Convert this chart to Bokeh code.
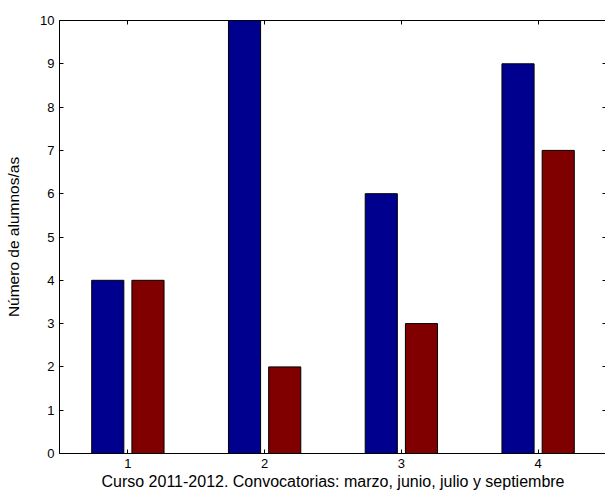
from bokeh.plotting import figure
from bokeh.models import LinearAxis, FixedTicker, Range1d
from bokeh.transform import dodge
from bokeh.models import ColumnDataSource
from bokeh.embed import file_html
from bokeh.resources import INLINE

groups = [1, 2, 3, 4]
serie_a = [4, 10, 6, 9]
serie_b = [4, 2, 3, 7]
y_ticks = [0, 1, 2, 3, 4, 5, 6, 7, 8, 9, 10]

src = ColumnDataSource(dict(x=groups, a=serie_a, b=serie_b))

p = figure(width=606, height=493, output_backend="svg", toolbar_location=None,
           x_range=Range1d(0.5, 4.5), y_range=Range1d(0, 10),
           min_border_left=59, min_border_top=20, min_border_right=0, min_border_bottom=40)
p.grid.visible = False
p.outline_line_color = "black"
p.outline_line_width = 1

w = 0.235
p.vbar(x=dodge("x", -0.147, range=p.x_range), top="a", width=w, source=src,
       fill_color="#00008F", line_color="black", line_width=1)
p.vbar(x=dodge("x", 0.147, range=p.x_range), top="b", width=w, source=src,
       fill_color="#800000", line_color="black", line_width=1)

font = "Liberation Sans"
for ax in [p.xaxis[0], p.yaxis[0]]:
    ax.major_tick_in = 4
    ax.major_tick_out = 0
    ax.minor_tick_in = 0
    ax.minor_tick_out = 0
    ax.major_label_text_font = font
    ax.major_label_text_font_size = "13px"
    ax.major_label_text_color = "black"
    ax.axis_label_text_font = font
    ax.axis_label_text_font_style = "normal"
    ax.axis_label_text_color = "black"
    ax.axis_line_color = "black"

p.xaxis[0].ticker = FixedTicker(ticks=groups)
p.yaxis[0].ticker = FixedTicker(ticks=y_ticks)
p.xaxis[0].axis_label = "Curso 2011-2012. Convocatorias: marzo, junio, julio y septiembre"
p.yaxis[0].axis_label = "Número de alumnos/as"
p.xaxis[0].axis_label_text_font_size = "16px"
p.yaxis[0].axis_label_text_font_size = "15.5px"
p.yaxis[0].axis_label_standoff = 15
p.xaxis[0].major_label_standoff = 5
p.xaxis[0].axis_label_standoff = 2

top_ax = LinearAxis(ticker=FixedTicker(ticks=groups), major_tick_in=4, major_tick_out=0,
                    minor_tick_in=0, minor_tick_out=0, major_label_text_color=None,
                    major_label_overrides={t: "" for t in groups},
                    major_label_standoff=0, axis_line_color=None)
right_ax = LinearAxis(ticker=FixedTicker(ticks=y_ticks), major_tick_in=4, major_tick_out=0,
                      minor_tick_in=0, minor_tick_out=0, major_label_text_color=None,
                      major_label_overrides={t: "" for t in y_ticks},
                      major_label_standoff=0, axis_line_color=None)
p.add_layout(top_ax, "above")
p.add_layout(right_ax, "right")

open("out.html", "w").write(file_html(p, INLINE))
